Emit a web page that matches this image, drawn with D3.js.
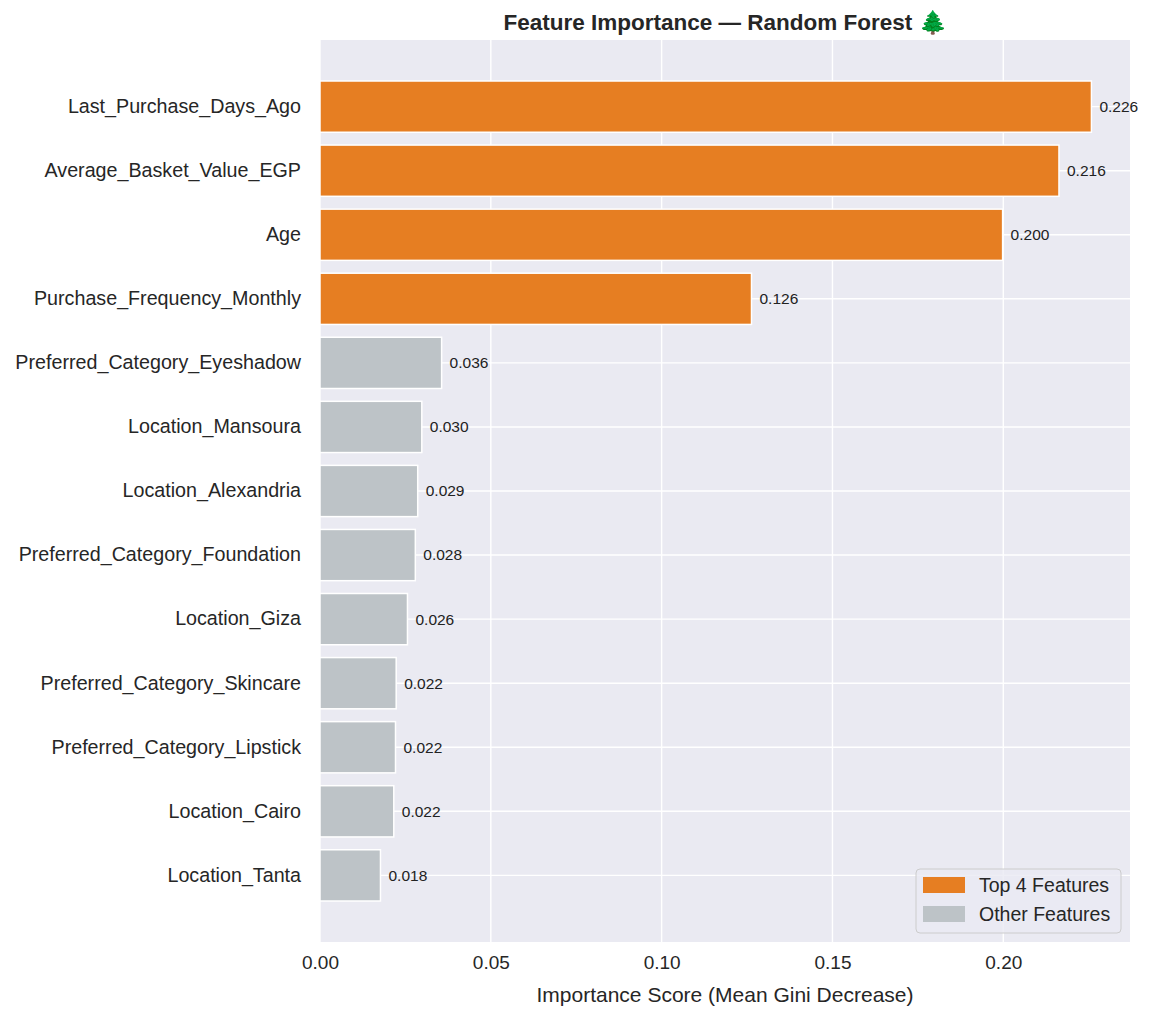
<!DOCTYPE html>
<html><head><meta charset="utf-8">
<script src="https://cdn.jsdelivr.net/npm/d3@7"></script>
<style>body{margin:0;background:#fff;} svg{display:block;font-family:"Liberation Sans",Arial,sans-serif;}</style>
</head><body>
<svg id="chart" width="1152" height="1019"></svg>
<script>
const features = ["Last_Purchase_Days_Ago","Average_Basket_Value_EGP","Age","Purchase_Frequency_Monthly","Preferred_Category_Eyeshadow","Location_Mansoura","Location_Alexandria","Preferred_Category_Foundation","Location_Giza","Preferred_Category_Skincare","Preferred_Category_Lipstick","Location_Cairo","Location_Tanta"];
const importance = [0.2258, 0.2163, 0.1998, 0.1263, 0.0356, 0.0298, 0.0286, 0.0279, 0.0256, 0.0223, 0.0221, 0.0216, 0.0177];
const xTicks = [0, 0.05, 0.10, 0.15, 0.20];
const topN = 4;
const legendLabels = ["Top 4 Features","Other Features"];

const W=1152,H=1019, L=320, R=1130, T=40, B=942;
const cTop="#E67E22", cOther="#BDC3C7", bg="#EAEAF2", txt="#262626";
const svg=d3.select("#chart");
const x=d3.scaleLinear().domain([0, d3.max(importance)*1.05]).range([L,R]);
const y=d3.scaleBand().domain(features).range([T,B]).paddingInner(0.2).paddingOuter(0.64);

svg.append("rect").attr("x",L).attr("y",T).attr("width",R-L).attr("height",B-T).attr("fill",bg);
// grid
svg.append("g").selectAll("line").data(xTicks).join("line")
  .attr("x1",d=>x(d)).attr("x2",d=>x(d)).attr("y1",T).attr("y2",B)
  .attr("stroke","#fff").attr("stroke-width",1.4);
svg.append("g").selectAll("line").data(features).join("line")
  .attr("x1",L).attr("x2",R).attr("y1",d=>y(d)+y.bandwidth()/2).attr("y2",d=>y(d)+y.bandwidth()/2)
  .attr("stroke","#fff").attr("stroke-width",1.4);
// bars
svg.append("g").selectAll("rect").data(features).join("rect")
  .attr("x",x(0)).attr("y",d=>y(d)).attr("height",y.bandwidth())
  .attr("width",(d,i)=>x(importance[i])-x(0))
  .attr("fill",(d,i)=>i<topN?cTop:cOther).attr("stroke","#fff").attr("stroke-width",1.5);
// value labels
svg.append("g").selectAll("text").data(features).join("text")
  .attr("x",(d,i)=>x(importance[i])+8).attr("y",d=>y(d)+y.bandwidth()/2)
  .attr("dy","0.35em").attr("font-size",15.5).attr("fill","#222")
  .text((d,i)=>d3.format(".3f")(importance[i]));
// x axis
const xa=svg.append("g").attr("transform",`translate(0,${B})`)
  .call(d3.axisBottom(x).tickValues(xTicks).tickFormat(d3.format(".2f")).tickSize(0).tickPadding(14));
xa.select(".domain").remove();
xa.selectAll("text").attr("font-size",19).attr("fill",txt).attr("font-family","Liberation Sans, Arial, sans-serif");
// y axis
const ya=svg.append("g").attr("transform",`translate(${L},0)`)
  .call(d3.axisLeft(y).tickSize(0).tickPadding(19));
ya.select(".domain").remove();
ya.selectAll("text").attr("font-size",19.7).attr("fill",txt).attr("font-family","Liberation Sans, Arial, sans-serif");
// title
svg.append("text").attr("x",(L+R)/2).attr("y",30).attr("text-anchor","middle")
  .attr("font-size",22.5).attr("font-weight","bold").attr("fill",txt)
  .text("Feature Importance — Random Forest 🌲");
svg.append("text").attr("x",(L+R)/2).attr("y",1002).attr("text-anchor","middle")
  .attr("font-size",21).attr("fill",txt).text("Importance Score (Mean Gini Decrease)");
// legend
const lg=svg.append("g");
lg.append("rect").attr("x",916).attr("y",869).attr("width",205).attr("height",64).attr("rx",4)
  .attr("fill",bg).attr("fill-opacity",0.8).attr("stroke","#cccccc").attr("stroke-width",1);
legendLabels.forEach((lab,i)=>{
  lg.append("rect").attr("x",923).attr("y",877+i*29).attr("width",42).attr("height",16).attr("fill",i===0?cTop:cOther);
  lg.append("text").attr("x",979).attr("y",885+i*29).attr("dy","0.35em").attr("font-size",19.5).attr("fill",txt).text(lab);
});
</script>
</body></html>
